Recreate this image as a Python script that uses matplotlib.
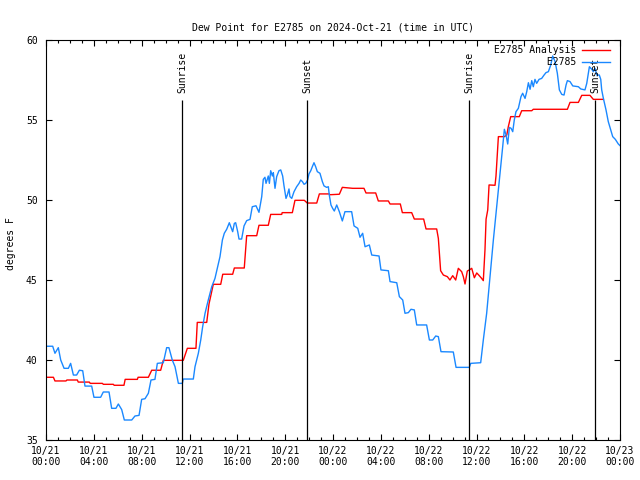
import numpy as np
import pandas as pd
import matplotlib
matplotlib.use("Agg")
import matplotlib.pyplot as plt
import matplotlib.dates as mdates
from matplotlib.ticker import MultipleLocator

plt.rcParams['font.family'] = ['DejaVu Sans Mono']
plt.rcParams['font.size'] = 7

# Dew point data, hours after 2024-10-21 00:00 UTC
obs_hours = [0, 0.56, 0.75, 1.03, 1.23, 1.51, 1.87, 2.06, 2.29, 2.56, 2.79, 3.07, 3.26, 3.82,
             4.01, 4.57, 4.79, 5.27, 5.49, 5.85, 6.05, 6.33, 6.55, 7.17, 7.44, 7.78, 8.0, 8.28,
             8.56, 8.78, 9.11, 9.31, 9.81, 10.09, 10.28, 10.56, 10.79, 11.07, 11.40, 11.48,
             12.32, 12.46, 12.74, 12.94, 13.1, 13.3, 13.57, 13.86, 14.13, 14.36, 14.55, 14.75,
             14.91, 15.11, 15.33, 15.47, 15.61, 15.75, 15.86, 16.03, 16.14, 16.36, 16.56, 16.78,
             17.06, 17.25, 17.56, 17.81, 18.04, 18.17, 18.31, 18.4, 18.59, 18.68, 18.79, 18.93,
             19.01, 19.15, 19.29, 19.48, 19.63, 19.79, 19.9, 20.07, 20.18, 20.32, 20.4, 20.55,
             20.74, 20.96, 21.16, 21.3, 21.44, 21.58, 21.72, 21.88, 21.99, 22.14, 22.27, 22.41,
             22.55, 22.69, 22.91, 23.11, 23.25, 23.47, 23.61, 23.69, 23.83, 23.97, 24.11, 24.31,
             24.53, 24.78, 25.0, 25.56, 25.76, 26.07, 26.26, 26.48, 26.68, 27.04, 27.24, 27.85,
             28.01, 28.63, 28.77, 29.33, 29.55, 29.83, 30.02, 30.3, 30.52, 30.8, 31.0, 31.83,
             32.06, 32.34, 32.59, 32.81, 33.03, 34.06, 34.29, 35.4, 35.52, 36.35, 36.57, 36.85,
             37.13, 37.41, 37.69, 37.97, 38.19, 38.33, 38.47, 38.61, 38.75, 38.89, 39.03, 39.16,
             39.3, 39.5, 39.72, 39.86, 40.06, 40.2, 40.34, 40.48, 40.62, 40.75, 40.89, 41.03,
             41.23, 41.45, 41.65, 41.81, 42.01, 42.21, 42.37, 42.57, 42.76, 42.93, 43.13, 43.32,
             43.49, 43.6, 43.82, 44.05, 44.52, 44.72, 45.07, 45.22, 45.44, 45.64, 45.77, 45.91,
             46.06, 46.27, 46.39, 46.47, 46.61, 46.83, 47.02, 47.22, 47.39, 47.61, 47.86, 48.0]
obs_dewpt = [40.86, 40.86, 40.42, 40.77, 40.0, 39.48, 39.48, 39.79, 39.06, 39.06, 39.36, 39.33,
             38.37, 38.37, 37.67, 37.67, 38.0, 38.0, 36.98, 36.98, 37.25, 36.9, 36.25, 36.25,
             36.5, 36.54, 37.54, 37.58, 37.92, 38.75, 38.79, 39.79, 39.83, 40.77, 40.77, 40.0,
             39.58, 38.54, 38.54, 38.81, 38.81, 39.58, 40.42, 41.25, 42.08, 42.92, 43.75, 44.58,
             45.1, 45.83, 46.46, 47.5, 47.92, 48.17, 48.58, 48.29, 48.02, 48.54, 48.58, 48.02,
             47.56, 47.56, 48.38, 48.71, 48.79, 49.58, 49.64, 49.23, 50.21, 51.29, 51.42, 51.04,
             51.5, 51.04, 51.83, 51.5, 51.71, 50.73, 51.46, 51.83, 51.88, 51.5, 50.9, 50.1,
             50.31, 50.69, 50.21, 50.1, 50.52, 50.83, 51.04, 51.25, 51.15, 50.98, 51.04, 51.25,
             51.63, 51.83, 52.08, 52.33, 52.08, 51.77, 51.67, 51.15, 50.88, 50.79, 50.83, 50.31,
             49.69, 49.48, 49.31, 49.69, 49.27, 48.69, 49.27, 49.27, 48.38, 48.23, 47.67, 47.92,
             47.08, 47.19, 46.56, 46.5, 45.63, 45.58, 44.9, 44.83, 43.96, 43.75, 42.92, 42.96,
             43.17, 43.13, 42.19, 42.19, 41.25, 41.25, 41.5, 41.46, 40.52, 40.5, 39.54, 39.54,
             39.79, 39.83, 41.25, 42.92, 45.2, 47.5, 49.58, 51.67, 53.33, 54.42, 54.06, 53.5,
             54.54, 54.48, 54.27, 55.0, 55.52, 55.73, 56.46, 56.67, 56.35, 56.77, 57.33, 56.92,
             57.46, 57.08, 57.54, 57.29, 57.54, 57.6, 57.81, 57.96, 58.02, 58.44, 59.0, 58.65,
             57.92, 56.88, 56.6, 56.56, 57.19, 57.46, 57.4, 57.13, 57.08, 56.94, 56.88, 57.29,
             58.33, 58.17, 58.02, 58.23, 57.81, 57.81, 57.54, 56.88, 56.35, 55.63, 54.9, 54.38,
             53.96, 53.79, 53.5, 53.4]

ana_hours = [0, 0.62, 0.75, 1.67, 1.75, 2.62, 2.7, 3.62, 3.7, 4.71, 4.8, 5.63, 5.7, 6.52, 6.62,
             7.64, 7.7, 8.56, 8.84, 9.59, 9.81, 11.48, 11.82, 12.54, 12.65, 13.44, 13.63, 13.99,
             14.61, 14.78, 15.61, 15.75, 16.58, 16.78, 17.62, 17.81, 18.59, 18.79, 19.71, 19.75,
             20.6, 20.82, 21.6, 21.85, 22.64, 22.86, 23.67, 23.75, 24.53, 24.78, 25.65, 26.59,
             26.76, 27.57, 27.79, 28.63, 28.77, 29.63, 29.80, 30.58, 30.80, 31.58, 31.78, 32.67,
             32.81, 33.0, 33.23, 33.56, 33.78, 34.01, 34.26, 34.48, 34.76, 34.9, 35.04, 35.23,
             35.4, 35.6, 35.82, 36.02, 36.21, 36.43, 36.57, 36.71, 36.8, 36.94, 37.05, 37.55,
             37.63, 37.83, 38.33, 38.53, 38.66, 38.86, 39.58, 39.78, 40.62, 40.75, 43.6, 43.82,
             44.52, 44.8, 45.49, 45.77, 46.61]
ana_dewpt = [38.92, 38.92, 38.69, 38.69, 38.75, 38.75, 38.62, 38.62, 38.54, 38.54, 38.48,
             38.48, 38.42, 38.42, 38.79, 38.79, 38.92, 38.92, 39.36, 39.36, 39.98, 39.98, 40.73,
             40.73, 42.35, 42.35, 43.5, 44.73, 44.73, 45.36, 45.36, 45.75, 45.75, 47.77, 47.77,
             48.42, 48.42, 49.1, 49.1, 49.21, 49.21, 49.98, 49.98, 49.81, 49.81, 50.38, 50.38,
             50.33, 50.36, 50.79, 50.73, 50.73, 50.44, 50.44, 49.94, 49.94, 49.75, 49.75, 49.21,
             49.21, 48.81, 48.81, 48.19, 48.19, 47.6, 45.58, 45.31, 45.21, 45.0, 45.27, 45.0,
             45.73, 45.52, 45.21, 44.75, 45.56, 45.63, 45.73, 45.14, 45.44, 45.29, 45.1, 44.96,
             46.9, 48.8, 49.38, 50.94, 50.92, 51.5, 53.96, 53.96, 54.06, 54.58, 55.21, 55.21,
             55.58, 55.58, 55.67, 55.67, 56.1, 56.1, 56.54, 56.54, 56.29, 56.29]

sun_hours = [11.40, 21.83, 35.40, 45.91]
sun_labels = ['Sunrise', 'Sunset', 'Sunrise', 'Sunset']

start = pd.Timestamp('2024-10-21 00:00')
def to_time(hours):
    return start + pd.to_timedelta(np.asarray(hours), unit='h')

fig = plt.figure(figsize=(6.4, 4.8), dpi=100)
ax = fig.add_axes([46 / 640, 40 / 480, 574 / 640, 400 / 480])

ax.plot(to_time(ana_hours), ana_dewpt, color='#ff0000', lw=1.0, label='E2785 Analysis')
ax.plot(to_time(obs_hours), obs_dewpt, color='#1a88ff', lw=1.0, label='         E2785')

# sunrise / sunset markers
for t, lab in zip(to_time(sun_hours), sun_labels):
    ax.vlines(t, 35, 56.25, color='black', lw=0.9)
    ax.text(t, 56.7, lab, rotation=90, ha='center', va='bottom', fontsize=7)

ax.set_xlim(start, start + pd.Timedelta(hours=48))
ax.set_ylim(35, 60)
ax.xaxis.set_major_locator(mdates.HourLocator(byhour=range(0, 24, 4)))
ax.xaxis.set_minor_locator(mdates.HourLocator())
ax.xaxis.set_major_formatter(mdates.DateFormatter('%m/%d\n%H:%M'))
ax.yaxis.set_major_locator(MultipleLocator(5))

ax.tick_params(which='both', direction='in', top=True, right=True, width=0.8)
ax.tick_params(which='major', length=4)
ax.tick_params(which='minor', length=2)
ax.tick_params(axis='x', which='major', pad=4, labelsize=7)
ax.tick_params(axis='y', which='major', pad=6, labelsize=7)
for s in ax.spines.values():
    s.set_linewidth(0.8)

ax.set_ylabel('degrees F', fontsize=7)
ax.yaxis.set_label_coords(-0.052, 0.49)
ax.set_title('Dew Point for E2785 on 2024-Oct-21 (time in UTC)', fontsize=7, pad=7)

ax.legend(loc='upper right', bbox_to_anchor=(0.9826, 0.9875), frameon=False, markerfirst=False,
          handlelength=2.9, handletextpad=0.6, labelspacing=0.25, borderpad=0, borderaxespad=0,
          fontsize=7)

fig.savefig('out.png', dpi=100)
